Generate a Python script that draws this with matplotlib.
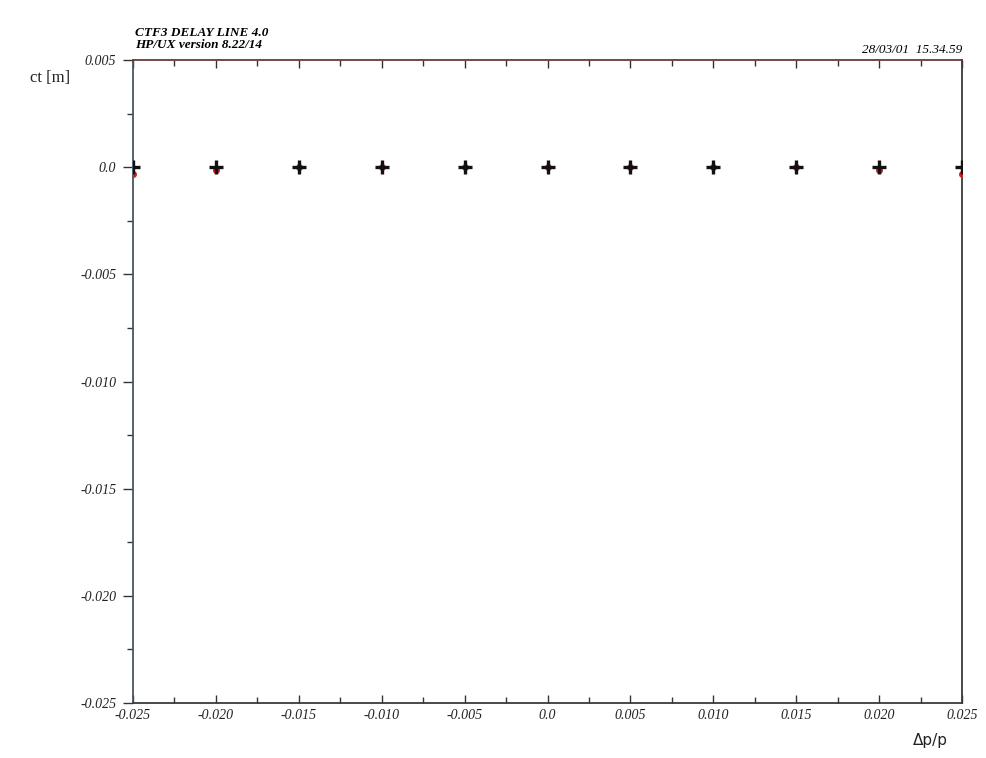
import numpy as np
import matplotlib.pyplot as plt

# momentum offsets and path length deviation
dpp = [-0.025, -0.020, -0.015, -0.010, -0.005, 0.0, 0.005, 0.010, 0.015, 0.020, 0.025]
ct_black = [0.0, 0.0, 0.0, 0.0, 0.0, 0.0, 0.0, 0.0, 0.0, 0.0, 0.0]
ct_red = [-0.0003, -0.00015, 0.0, 0.0, 0.0, 0.0, 0.0, 0.0, 0.0, -0.00015, -0.0003]

xticks = [-0.025, -0.020, -0.015, -0.010, -0.005, 0.0, 0.005, 0.010, 0.015, 0.020, 0.025]
xlabels = ["-0.025", "-0.020", "-0.015", "-0.010", "-0.005", "0.0",
           "0.005", "0.010", "0.015", "0.020", "0.025"]
yticks = [-0.025, -0.020, -0.015, -0.010, -0.005, 0.0, 0.005]
ylabels = ["-0.025", "-0.020", "-0.015", "-0.010", "-0.005", "0.0", "0.005"]

fig = plt.figure(figsize=(9.86, 7.58), dpi=100)
ax = fig.add_axes([0.1349, 0.0726, 0.8408, 0.8482])

ax.plot(dpp, ct_red, ls='none', marker='o', ms=4, color='#d02020', zorder=3)
ax.plot(dpp, ct_black, ls='none', marker='+', ms=10, mew=2.4, color='#111111', zorder=4)

ax.set_xlim(-0.025, 0.025)
ax.set_ylim(-0.025, 0.005)

serif = 'Liberation Serif'
ax.set_xticks(xticks)
ax.set_xticklabels(xlabels, fontfamily=serif, fontstyle='italic', fontsize=10)
ax.set_xticks(np.arange(-0.0225, 0.025, 0.005), minor=True)
ax.set_yticks(yticks)
ax.set_yticklabels(ylabels, fontfamily=serif, fontstyle='italic', fontsize=10)
ax.set_yticks(np.arange(-0.0225, 0.005, 0.005), minor=True)

ax.tick_params(axis='x', which='both', direction='in', top=True, bottom=True,
               pad=4, colors='#333333', labelcolor='#222222')
ax.tick_params(axis='x', which='major', length=6, width=1)
ax.tick_params(axis='x', which='minor', length=4, width=1)
ax.tick_params(axis='y', which='both', direction='out', left=True, right=False,
               pad=5, colors='#333333', labelcolor='#222222')
ax.tick_params(axis='y', which='major', length=7, width=1)
ax.tick_params(axis='y', which='minor', length=4, width=1)

ax.spines['top'].set_color('#6a3a34')
ax.spines['bottom'].set_color('#3a3a3a')
ax.spines['left'].set_color('#4a5560')
ax.spines['right'].set_color('#3a3a3a')
for s in ax.spines.values():
    s.set_linewidth(1.3)

fig.text(30 / 986, 1 - 78 / 758, "ct [m]", fontfamily=serif, fontsize=12,
         ha='left', va='center', color='#222222')
fig.text(930 / 986, 1 - 740 / 758, "\u0394p/p", fontfamily='DejaVu Sans', fontsize=11,
         ha='center', va='center', color='#222222')
fig.text(135 / 986, 1 - 33 / 758, "CTF3 DELAY LINE 4.0", fontfamily=serif,
         fontstyle='italic', fontweight='bold', fontsize=9.5, ha='left', va='center')
fig.text(135 / 986, 1 - 45 / 758, "HP/UX version 8.22/14", fontfamily=serif,
         fontstyle='italic', fontweight='bold', fontsize=9.5, ha='left', va='center')
fig.text(962 / 986, 1 - 50 / 758, "28/03/01  15.34.59", fontfamily=serif,
         fontstyle='italic', fontsize=9.5, ha='right', va='center')

fig.savefig('out.png', dpi=100)
